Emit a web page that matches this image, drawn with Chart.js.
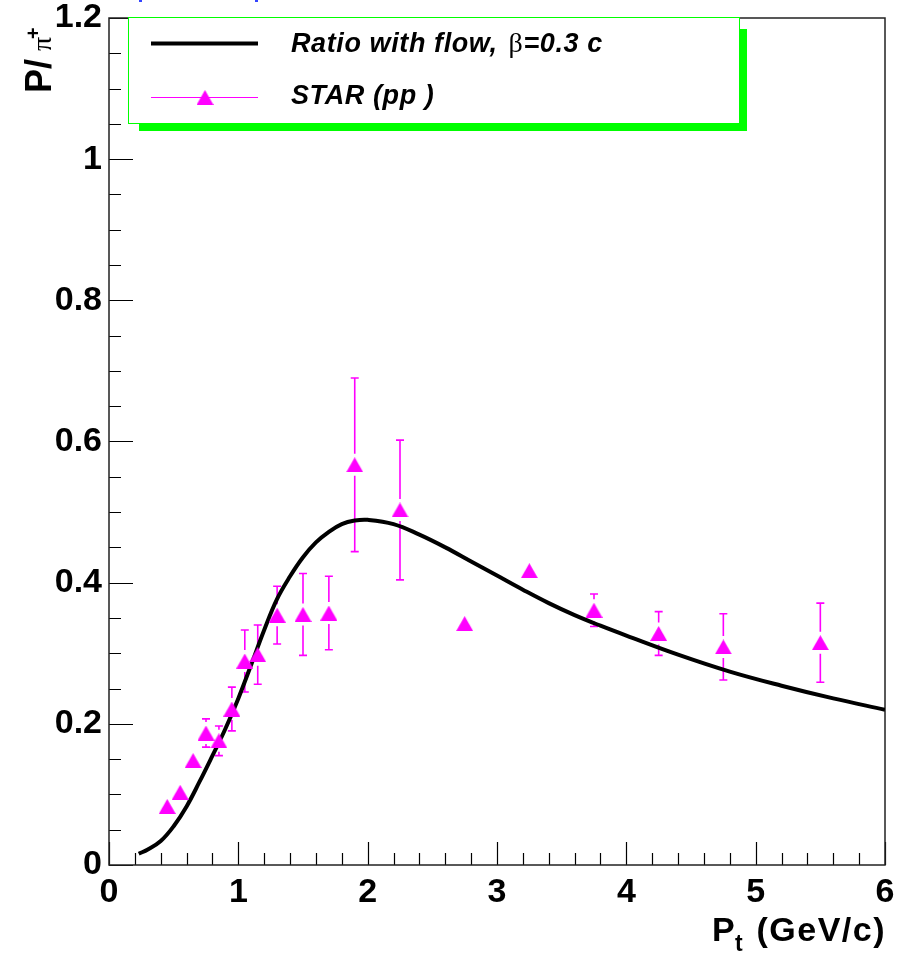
<!DOCTYPE html>
<html lang="en">
<head>
  <meta charset="UTF-8">
  <title>P/pi+ ratio vs Pt</title>
  <script src="https://cdn.jsdelivr.net/npm/chart.js"></script>
  <style>
    body {
      margin: 0;
      background: #fff;
    }
    canvas {
      display: block;
    }
  </style>
</head>
<body>
  <canvas id="ratioChart" width="902" height="954"></canvas>

  <script>
    // Model curve: ratio with flow, beta = 0.3 c
    const flowPt = [0.23, 0.3, 0.4, 0.5, 0.6, 0.7, 0.8, 0.9, 1.0, 1.1, 1.2, 1.3, 1.4, 1.5, 1.6, 1.7, 1.8, 1.9, 2.0,
      2.2, 2.4, 2.6, 2.8, 3.0, 3.2, 3.4, 3.6, 3.8, 4.0, 4.4, 4.8, 5.2, 5.6, 6.0];
    const flowRatio = [0.016, 0.022, 0.034, 0.055, 0.083, 0.118, 0.155, 0.193, 0.236, 0.284, 0.333, 0.377, 0.409, 0.436,
      0.457, 0.472, 0.483, 0.488, 0.489, 0.483, 0.468, 0.45, 0.43, 0.41, 0.39, 0.371, 0.354, 0.339, 0.325, 0.298,
      0.274, 0.254, 0.236, 0.22];

    // STAR (pp) points with symmetric errors
    const starPt = [0.45, 0.55, 0.65, 0.75, 0.85, 0.95, 1.05, 1.15, 1.3, 1.5, 1.7, 1.9, 2.25, 2.75, 3.25, 3.75, 4.25, 4.75, 5.5];
    const starRatio = [0.083, 0.103, 0.148, 0.187, 0.176, 0.221, 0.289, 0.298, 0.354, 0.355, 0.357, 0.567, 0.503,
      0.342, 0.417, 0.361, 0.328, 0.309, 0.315];
    const starErr = [0.008, 0.008, 0.008, 0.02, 0.021, 0.031, 0.044, 0.042, 0.041, 0.058, 0.052, 0.123, 0.099,
      0.008, 0.008, 0.023, 0.031, 0.047, 0.056];

    const xTicks = [0, 1, 2, 3, 4, 5, 6];
    const yTicks = ['0', '0.2', '0.4', '0.6', '0.8', '1', '1.2'];

    const MAGENTA = '#ff00ff';
    const GREEN = '#00ff00';
    const FONT = '"Liberation Sans", Arial, sans-serif';

    // ROOT style triangle marker, centred on its bounding box
    const marker = document.createElement('canvas');
    marker.width = 17;
    marker.height = 15;
    (function () {
      const m = marker.getContext('2d');
      m.fillStyle = MAGENTA;
      m.beginPath();
      m.moveTo(8.5, 0);
      m.lineTo(17, 15);
      m.lineTo(0, 15);
      m.closePath();
      m.fill();
    })();

    // ROOT-like frame, inside ticks, error bars, legend and axis titles
    const rootStyle = {
      id: 'rootStyle',
      beforeDatasetsDraw(chart) {
        const { ctx, chartArea: a, scales: { x, y } } = chart;
        ctx.save();

        // ticks pointing inward
        ctx.strokeStyle = '#000';
        ctx.lineWidth = 1.2;
        ctx.beginPath();
        const nx = Math.round((x.max - x.min) / 0.2);
        for (let i = 0; i <= nx; i++) {
          const px = Math.round(x.getPixelForValue(x.min + i * 0.2)) + 0.5;
          ctx.moveTo(px, a.bottom);
          ctx.lineTo(px, a.bottom - (i % 5 === 0 ? 23 : 12));
        }
        const ny = Math.round((y.max - y.min) / 0.05);
        for (let i = 0; i <= ny; i++) {
          const py = Math.round(y.getPixelForValue(y.min + i * 0.05)) + 0.5;
          ctx.moveTo(a.left, py);
          ctx.lineTo(a.left + (i % 4 === 0 ? 24 : 12), py);
        }
        ctx.stroke();

        // frame
        ctx.strokeStyle = '#222';
        ctx.lineWidth = 1.5;
        ctx.strokeRect(a.left, a.top, a.right - a.left, a.bottom - a.top);

        // error bars, leaving a gap round the marker
        ctx.strokeStyle = MAGENTA;
        ctx.lineWidth = 1.6;
        const gap = 11, cap = 4;
        ctx.beginPath();
        starPt.forEach((p, i) => {
          const px = x.getPixelForValue(p);
          const yc = y.getPixelForValue(starRatio[i]);
          const yt = y.getPixelForValue(starRatio[i] + starErr[i]);
          const yb = y.getPixelForValue(starRatio[i] - starErr[i]);
          if (yc - yt > gap) {
            ctx.moveTo(px, yt); ctx.lineTo(px, yc - gap);
            ctx.moveTo(px - cap, yt); ctx.lineTo(px + cap, yt);
          }
          if (yb - yc > gap) {
            ctx.moveTo(px, yc + gap); ctx.lineTo(px, yb);
            ctx.moveTo(px - cap, yb); ctx.lineTo(px + cap, yb);
          }
        });
        ctx.stroke();
        ctx.restore();
      },
      afterDraw(chart) {
        const { ctx } = chart;
        ctx.save();

        // cut-off title remains at the very top
        ctx.fillStyle = '#3344ff';
        ctx.fillRect(139, 0, 3, 2);
        ctx.fillRect(255, 0, 3, 2);

        // legend box with shadow
        ctx.fillStyle = GREEN;
        ctx.fillRect(139, 124, 608, 7);
        ctx.fillRect(740, 29, 7, 102);
        ctx.fillStyle = '#fff';
        ctx.fillRect(128, 17, 612, 107);
        ctx.strokeStyle = GREEN;
        ctx.lineWidth = 1;
        ctx.strokeRect(128.5, 17.5, 611, 106);

        // entry 1
        ctx.strokeStyle = '#000';
        ctx.lineWidth = 4;
        ctx.beginPath();
        ctx.moveTo(151, 43.5);
        ctx.lineTo(258, 43.5);
        ctx.stroke();
        ctx.fillStyle = '#000';
        ctx.textBaseline = 'alphabetic';
        ctx.textAlign = 'left';
        ctx.letterSpacing = '0.6px';
        ctx.font = 'italic bold 27px ' + FONT;
        let tx = 291;
        ctx.fillText('Ratio with flow,', tx, 52);
        tx += ctx.measureText('Ratio with flow,').width + 11;
        ctx.font = '28px "Liberation Serif", serif';
        ctx.fillText('\u03b2', tx, 52);
        tx += ctx.measureText('\u03b2').width;
        ctx.font = 'italic bold 27px ' + FONT;
        ctx.fillText('=0.3 c', tx, 52);

        // entry 2
        ctx.strokeStyle = MAGENTA;
        ctx.lineWidth = 1;
        ctx.beginPath();
        ctx.moveTo(151, 97.5);
        ctx.lineTo(258, 97.5);
        ctx.stroke();
        ctx.drawImage(marker, 205 - marker.width / 2, 97.5 - marker.height / 2);
        ctx.fillStyle = '#000';
        ctx.fillText('STAR (pp )', 291, 104);
        ctx.letterSpacing = '0px';

        // y title: P/pi+
        ctx.save();
        ctx.translate(51, 93);
        ctx.rotate(-Math.PI / 2);
        ctx.font = 'bold 36px ' + FONT;
        ctx.fillText('P/', 0, 0);
        ctx.font = '28px "Liberation Serif", serif';
        ctx.fillText('\u03c0', 42, 0);
        ctx.font = 'bold 20px ' + FONT;
        ctx.fillText('+', 54, -11);
        ctx.restore();

        // x title: P_t (GeV/c)
        ctx.font = 'bold 34px ' + FONT;
        ctx.fillText('P', 712, 941);
        ctx.font = 'bold 23px ' + FONT;
        ctx.fillText('t', 735, 951);
        ctx.font = 'bold 34px ' + FONT;
        ctx.letterSpacing = '1.5px';
        ctx.textAlign = 'right';
        ctx.fillText('(GeV/c)', 886, 941);

        ctx.restore();
      }
    };

    const tickFont = { family: FONT, size: 34, weight: 'bold', lineHeight: 1 };

    new Chart(document.getElementById('ratioChart'), {
      type: 'scatter',
      data: {
        datasets: [
          {
            type: 'line',
            label: 'Ratio with flow, \u03b2=0.3 c',
            data: flowPt.map((p, i) => ({ x: p, y: flowRatio[i] })),
            borderColor: '#000',
            borderWidth: 4,
            pointRadius: 0,
            fill: false,
            tension: 0.4,
            order: 1
          },
          {
            label: 'STAR (pp )',
            data: starPt.map((p, i) => ({ x: p, y: starRatio[i] })),
            pointStyle: marker,
            pointRadius: 8,
            backgroundColor: MAGENTA,
            borderWidth: 0,
            order: 0
          }
        ]
      },
      options: {
        responsive: false,
        animation: false,
        layout: { padding: { top: 18, right: 17, left: 0, bottom: 0 } },
        plugins: {
          legend: { display: false },
          tooltip: { enabled: false }
        },
        scales: {
          x: {
            type: 'linear',
            min: xTicks[0],
            max: xTicks[xTicks.length - 1],
            afterBuildTicks: s => { s.ticks = xTicks.map(v => ({ value: v })); },
            ticks: { color: '#000', font: tickFont, padding: 11, maxRotation: 0, callback: v => String(v) },
            grid: { display: false, drawTicks: false },
            border: { display: false },
            afterFit: s => { s.height = 89; s.paddingLeft = 0; s.paddingRight = 0; }
          },
          y: {
            min: 0,
            max: 1.2,
            afterBuildTicks: s => { s.ticks = yTicks.map(t => ({ value: parseFloat(t) })); },
            ticks: { color: '#000', font: tickFont, padding: 7, callback: (v, i) => yTicks[i] },
            grid: { display: false, drawTicks: false },
            border: { display: false },
            afterFit: s => { s.width = 109; s.paddingTop = 0; s.paddingBottom = 0; }
          }
        }
      },
      plugins: [rootStyle]
    });
  </script>
</body>
</html>
